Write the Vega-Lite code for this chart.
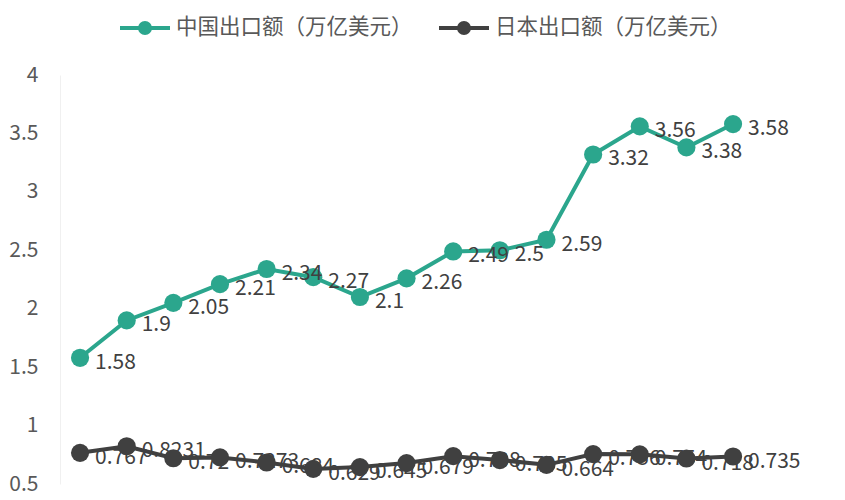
{
  "$schema": "https://vega.github.io/schema/vega-lite/v6.json",
  "autosize": "none",
  "width": 785,
  "height": 409,
  "padding": {"left": 60, "top": 75, "right": 0, "bottom": 16},
  "background": "#ffffff",
  "config": {
    "view": {"stroke": null},
    "font": "Noto Sans CJK SC"
  },
  "data": {
    "values": [
      {"year": 2010, "series": "中国出口额（万亿美元）", "value": 1.58},
      {"year": 2011, "series": "中国出口额（万亿美元）", "value": 1.9},
      {"year": 2012, "series": "中国出口额（万亿美元）", "value": 2.05},
      {"year": 2013, "series": "中国出口额（万亿美元）", "value": 2.21},
      {"year": 2014, "series": "中国出口额（万亿美元）", "value": 2.34},
      {"year": 2015, "series": "中国出口额（万亿美元）", "value": 2.27},
      {"year": 2016, "series": "中国出口额（万亿美元）", "value": 2.1},
      {"year": 2017, "series": "中国出口额（万亿美元）", "value": 2.26},
      {"year": 2018, "series": "中国出口额（万亿美元）", "value": 2.49},
      {"year": 2019, "series": "中国出口额（万亿美元）", "value": 2.5},
      {"year": 2020, "series": "中国出口额（万亿美元）", "value": 2.59},
      {"year": 2021, "series": "中国出口额（万亿美元）", "value": 3.32},
      {"year": 2022, "series": "中国出口额（万亿美元）", "value": 3.56},
      {"year": 2023, "series": "中国出口额（万亿美元）", "value": 3.38},
      {"year": 2024, "series": "中国出口额（万亿美元）", "value": 3.58},
      {"year": 2010, "series": "日本出口额（万亿美元）", "value": 0.767},
      {"year": 2011, "series": "日本出口额（万亿美元）", "value": 0.8231},
      {"year": 2012, "series": "日本出口额（万亿美元）", "value": 0.72},
      {"year": 2013, "series": "日本出口额（万亿美元）", "value": 0.7273},
      {"year": 2014, "series": "日本出口额（万亿美元）", "value": 0.684},
      {"year": 2015, "series": "日本出口额（万亿美元）", "value": 0.629},
      {"year": 2016, "series": "日本出口额（万亿美元）", "value": 0.645},
      {"year": 2017, "series": "日本出口额（万亿美元）", "value": 0.679},
      {"year": 2018, "series": "日本出口额（万亿美元）", "value": 0.738},
      {"year": 2019, "series": "日本出口额（万亿美元）", "value": 0.705},
      {"year": 2020, "series": "日本出口额（万亿美元）", "value": 0.664},
      {"year": 2021, "series": "日本出口额（万亿美元）", "value": 0.756},
      {"year": 2022, "series": "日本出口额（万亿美元）", "value": 0.754},
      {"year": 2023, "series": "日本出口额（万亿美元）", "value": 0.718},
      {"year": 2024, "series": "日本出口额（万亿美元）", "value": 0.735}
    ]
  },
  "encoding": {
    "x": {"field": "year", "type": "quantitative", "scale": {"domain": [2009.57, 2026.4], "nice": false, "zero": false}, "axis": null},
    "y": {"field": "value", "type": "quantitative", "scale": {"domain": [0.5, 4], "nice": false, "zero": false},
      "axis": {"title": null, "values": [0.5, 1, 1.5, 2, 2.5, 3, 3.5, 4], "format": "~g", "ticks": false, "grid": false,
        "domainColor": "#f0f0f0", "domainWidth": 1, "labelFontSize": 21, "labelColor": "#595959", "labelPadding": 22, "labelFont": "Noto Sans CJK SC"}},
    "color": {"field": "series", "type": "nominal",
      "scale": {"domain": ["中国出口额（万亿美元）", "日本出口额（万亿美元）"], "range": ["#2BA68D", "#404040"]},
      "legend": {"title": null, "orient": "none", "direction": "horizontal", "legendX": 58, "legendY": -74,
        "labelFontSize": 21.5, "labelColor": "#595959", "labelFont": "Noto Sans CJK SC", "labelLimit": 0, "columnPadding": 18,
        "symbolType": "M-1,0L1,0M-0.2,0A0.2,0.2 0 1,1 0.2,0A0.2,0.2 0 1,1 -0.2,0Z",
        "symbolSize": 2500, "symbolStrokeWidth": 4, "labelOffset": 4}}
  },
  "layer": [
    {"mark": {"type": "line", "strokeWidth": 4}},
    {"mark": {"type": "circle", "size": 330, "opacity": 1}},
    {"mark": {"type": "text", "align": "left", "baseline": "middle", "dx": 15, "dy": 5, "fontSize": 21, "color": "#404040", "font": "Noto Sans CJK SC"},
      "encoding": {"text": {"field": "value", "type": "nominal"}, "color": {"value": "#404040"}}}
  ]
}
